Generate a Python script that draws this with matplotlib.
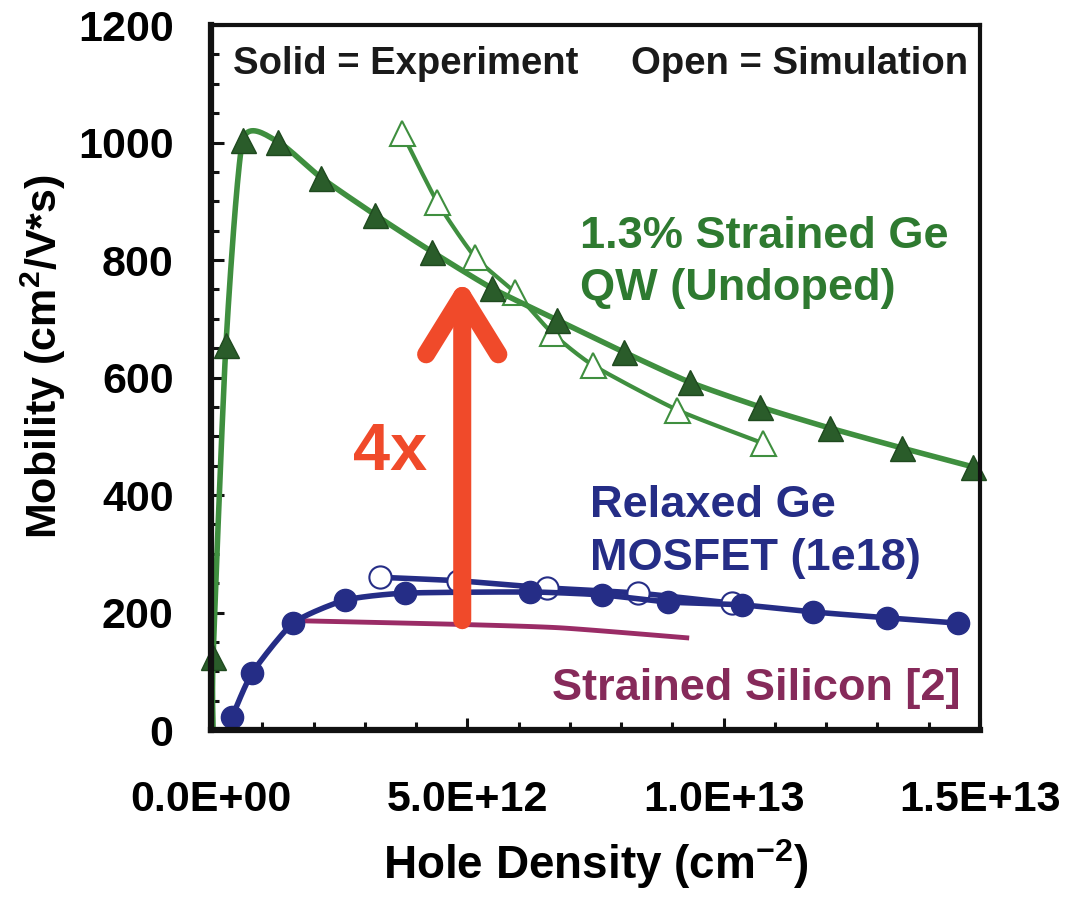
import numpy as np
import matplotlib
matplotlib.use("Agg")
import matplotlib.pyplot as plt
from matplotlib.ticker import MultipleLocator

plt.rcParams['font.family'] = ['Liberation Sans', 'DejaVu Sans']
plt.rcParams['font.weight'] = 'bold'
plt.rcParams['axes.labelweight'] = 'bold'
plt.rcParams['mathtext.fontset'] = 'custom'
plt.rcParams['mathtext.rm'] = 'Liberation Sans:bold'
plt.rcParams['mathtext.default'] = 'rm'

# Dane (gęstość w jednostkach 1e12 cm^-2, ruchliwość w cm2/Vs)
ge_exp_x = [0.04, 0.04, 0.29, 0.62, 1.31, 2.15, 3.2, 4.31, 5.48, 6.75, 8.06, 9.34, 10.71, 12.07, 13.48, 14.86]
ge_exp_y = [0, 124, 655, 1004, 1001, 940, 877, 814, 752, 698, 643, 592, 550, 514, 480, 448]

ge_sim_x = [3.73, 4.41, 5.15, 5.93, 6.65, 7.45, 9.09, 10.77]
ge_sim_y = [1016, 899, 805, 745, 676, 621, 545, 488]

mos_exp_x = [0.41, 0.80, 1.60, 2.61, 3.78, 6.22, 7.63, 8.91, 10.36, 11.74, 13.19, 14.57]
mos_exp_y = [22, 97, 182, 221, 233, 235, 230, 218, 213, 201, 191, 182]

mos_sim_x = [3.30, 4.82, 6.55, 8.33, 10.16]
mos_sim_y = [260, 254, 242, 233, 216]

ssi_x = [1.74, 4.76, 6.81, 9.28]
ssi_y = [186, 180, 174, 157]

arrow_x = 4.90
arrow_y = (187, 768)

xtick_vals = [0, 5, 10, 15]
xtick_labels = ['0.0E+00', '5.0E+12', '1.0E+13', '1.5E+13']
ytick_vals = [0, 200, 400, 600, 800, 1000, 1200]

E12 = 1e12

green_line = '#3f8f3f'
green_face = '#2a5c2a'
green_text = '#2e7a30'
blue = '#252d86'
magenta = '#9a2c66'
magenta_text = '#862a5a'
red = '#f04a2a'


def wygladz(x, y, n=20, k=0.6):
    # krzywa Catmull-Rom z napięciem k (jak "smoothed line" w Excelu)
    p = np.column_stack([x, y]).astype(float)
    p = np.vstack([p[0], p, p[-1]])
    out = []
    t = np.linspace(0, 1, n, endpoint=False)[:, None]
    for i in range(1, len(p) - 2):
        p0, p1, p2, p3 = p[i - 1], p[i], p[i + 1], p[i + 2]
        m1 = k * (p2 - p0) / 2
        m2 = k * (p3 - p1) / 2
        h00 = 2 * t ** 3 - 3 * t ** 2 + 1
        h10 = t ** 3 - 2 * t ** 2 + t
        h01 = -2 * t ** 3 + 3 * t ** 2
        h11 = t ** 3 - t ** 2
        out.append(h00 * p1 + h10 * m1 + h01 * p2 + h11 * m2)
    out.append(p[-2][None])
    out = np.vstack(out)
    return out[:, 0], out[:, 1]


fig = plt.figure(figsize=(10.68, 9.16), dpi=100)
ax = fig.add_axes([0.1976, 0.203, 0.72, 0.7697])

# Strained Ge QW
sx, sy = wygladz(ge_sim_x, ge_sim_y)
ax.plot(np.array(sx) * E12, sy, color=green_line, lw=3, zorder=3)
ax.plot(np.array(ge_sim_x) * E12, ge_sim_y, ls='none', marker='^', ms=18,
        mfc='white', mec=green_line, mew=1.5, zorder=4)
sx, sy = wygladz(ge_exp_x, ge_exp_y)
ax.plot(np.array(sx) * E12, sy, color=green_line, lw=4, zorder=5, clip_on=False)
ax.plot(np.array(ge_exp_x[1:]) * E12, ge_exp_y[1:], ls='none', marker='^', ms=18,
        mfc=green_face, mec='#1f4a1f', mew=1, zorder=6, clip_on=False)

# Relaxed Ge MOSFET
sx, sy = wygladz(mos_sim_x, mos_sim_y)
ax.plot(np.array(sx) * E12, sy, color=blue, lw=4, zorder=3)
ax.plot(np.array(mos_sim_x) * E12, mos_sim_y, ls='none', marker='o', ms=16,
        mfc='white', mec=blue, mew=1.5, zorder=4)
sx, sy = wygladz(mos_exp_x, mos_exp_y)
ax.plot(np.array(sx) * E12, sy, color=blue, lw=4, zorder=5, clip_on=False)
ax.plot(np.array(mos_exp_x) * E12, mos_exp_y, ls='none', marker='o', ms=16,
        mfc=blue, mec=blue, zorder=6, clip_on=False)

# Strained Si
sx, sy = wygladz(ssi_x, ssi_y)
ax.plot(np.array(sx) * E12, sy, color=magenta, lw=3.5, zorder=2)

# strzałka 4x
ax.annotate('', xy=(arrow_x * E12, arrow_y[1]), xytext=(arrow_x * E12, arrow_y[0]),
            arrowprops=dict(arrowstyle='->, head_length=42, head_width=26',
                            mutation_scale=1, lw=13, color=red, shrinkA=0, shrinkB=0,
                            capstyle='round', joinstyle='round'), zorder=7)

ax.text(2.77 * E12, 443, '4x', color=red, fontsize=48, ha='left', va='baseline', zorder=8)
ax.text(0.43 * E12, 1116, 'Solid = Experiment', fontsize=27.5, color='#1a1a1a', ha='left', va='baseline')
ax.text(14.76 * E12, 1116, 'Open = Simulation', fontsize=27.5, color='#1a1a1a', ha='right', va='baseline')
ax.text(7.2 * E12, 820, '1.3% Strained Ge', fontsize=32.5, color=green_text, ha='left', va='baseline')
ax.text(7.2 * E12, 732, 'QW (Undoped)', fontsize=32.5, color=green_text, ha='left', va='baseline')
ax.text(7.39 * E12, 363, 'Relaxed Ge', fontsize=32.5, color=blue, ha='left', va='baseline')
ax.text(7.39 * E12, 272, 'MOSFET (1e18)', fontsize=32.5, color=blue, ha='left', va='baseline')
ax.text(14.61 * E12, 51, 'Strained Silicon [2]', fontsize=32.5, color=magenta_text, ha='right', va='baseline')

ax.set_xlim(0, 15 * E12)
ax.set_ylim(0, 1200)
ax.set_xticks(np.array(xtick_vals) * E12)
ax.set_xticklabels(xtick_labels)
ax.set_yticks(ytick_vals)
ax.xaxis.set_minor_locator(MultipleLocator(1 * E12))
ax.yaxis.set_minor_locator(MultipleLocator(50))

ax.tick_params(which='both', direction='in', top=False, right=False, width=2.2, color='#111111')
ax.tick_params(which='major', length=9)
ax.tick_params(which='minor', length=6)
ax.tick_params(axis='y', labelsize=31, pad=27)
ax.tick_params(axis='x', labelsize=31, pad=36)

for s in ['left', 'bottom']:
    ax.spines[s].set_linewidth(4.5)
for s in ['top', 'right']:
    ax.spines[s].set_linewidth(3)
for s in ax.spines.values():
    s.set_color('#111111')
    s.set_zorder(10)

ax.set_ylabel('Mobility (cm$^{2}$/V*s)', fontsize=31, fontweight='bold')
ax.set_xlabel('Hole Density (cm$^{-2}$)', fontsize=33, fontweight='bold')
ax.yaxis.set_label_coords(-0.186, 0.53)
ax.xaxis.set_label_coords(0.5, -0.152)

plt.savefig('out.png', dpi=100)
